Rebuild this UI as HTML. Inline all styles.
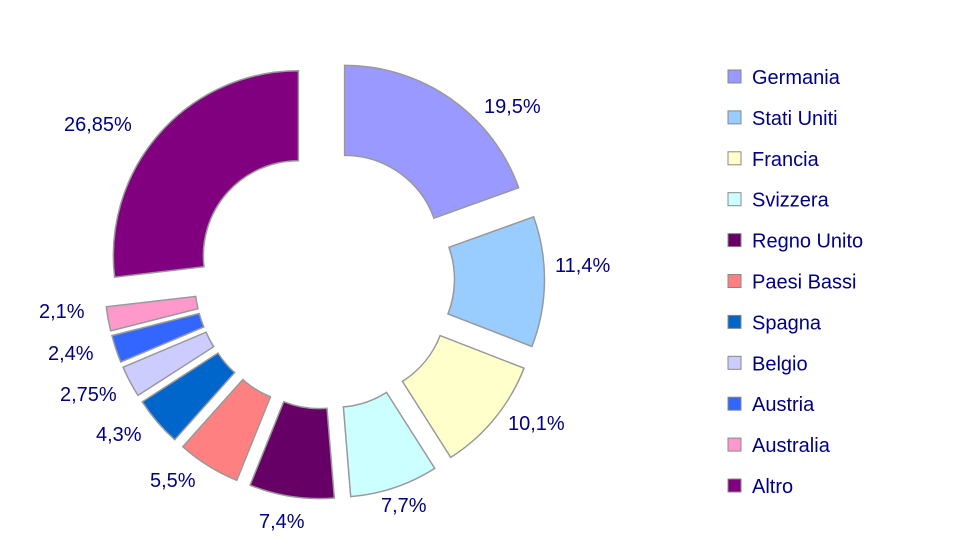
<!DOCTYPE html>
<html><head><meta charset="utf-8"><style>
html,body{margin:0;padding:0;background:#fff;}
svg{display:block;font-family:"Liberation Sans",sans-serif;}
</style></head><body>
<svg id="s" width="953" height="558" viewBox="0 0 953 558" xmlns="http://www.w3.org/2000/svg">
<g id="pie"></g>
<g font-size="20" fill="#000080">
<text x="484" y="113">19,5%</text>
<text x="555" y="272">11,4%</text>
<text x="508" y="430">10,1%</text>
<text x="381" y="512">7,7%</text>
<text x="259" y="528">7,4%</text>
<text x="150" y="487">5,5%</text>
<text x="96" y="441">4,3%</text>
<text x="60" y="401">2,75%</text>
<text x="48" y="360">2,4%</text>
<text x="39" y="318">2,1%</text>
<text x="64" y="131">26,85%</text>
</g>
<g id="leg" font-size="20" fill="#000080"></g>
</svg>
<script>
var data=[[19.5,"#9999ff","Germania"],[11.4,"#99ccff","Stati Uniti"],[10.1,"#ffffcc","Francia"],[7.7,"#ccffff","Svizzera"],[7.4,"#660066","Regno Unito"],[5.5,"#ff8080","Paesi Bassi"],[4.3,"#0066cc","Spagna"],[2.75,"#ccccff","Belgio"],[2.4,"#3366ff","Austria"],[2.1,"#ff99cc","Australia"],[26.85,"#800080","Altro"]];
var cx=324.5,cy=279,R=185,r=95,d=35,a=0,pie="",leg="";
function P(rad,ang,ox,oy){return (cx+ox+rad*Math.sin(ang)).toFixed(1)+","+(cy+oy-rad*Math.cos(ang)).toFixed(1);}
data.forEach(function(e,i){
 var a0=a*Math.PI/50,a1=(a+e[0])*Math.PI/50,m=(a0+a1)/2;a+=e[0];
 var ox=d*Math.sin(m),oy=-d*Math.cos(m),lg=(a1-a0)>Math.PI?1:0;
 pie+='<path d="M'+P(R,a0,ox,oy)+' A'+R+','+R+' 0 '+lg+' 1 '+P(R,a1,ox,oy)+' L'+P(r,a1,ox,oy)+' A'+r+','+r+' 0 '+lg+' 0 '+P(r,a0,ox,oy)+' Z" fill="'+e[1]+'" stroke="#999999" stroke-width="1.5"/>';
 var y=77+i*40.9;
 leg+='<rect x="728" y="'+(y-7)+'" width="13" height="13" fill="'+e[1]+'" stroke="#888" stroke-width="1"/><text x="752" y="'+(y+7)+'">'+e[2]+'</text>';
});
document.getElementById("pie").innerHTML=pie;
document.getElementById("leg").innerHTML=leg;
</script>
</body></html>
